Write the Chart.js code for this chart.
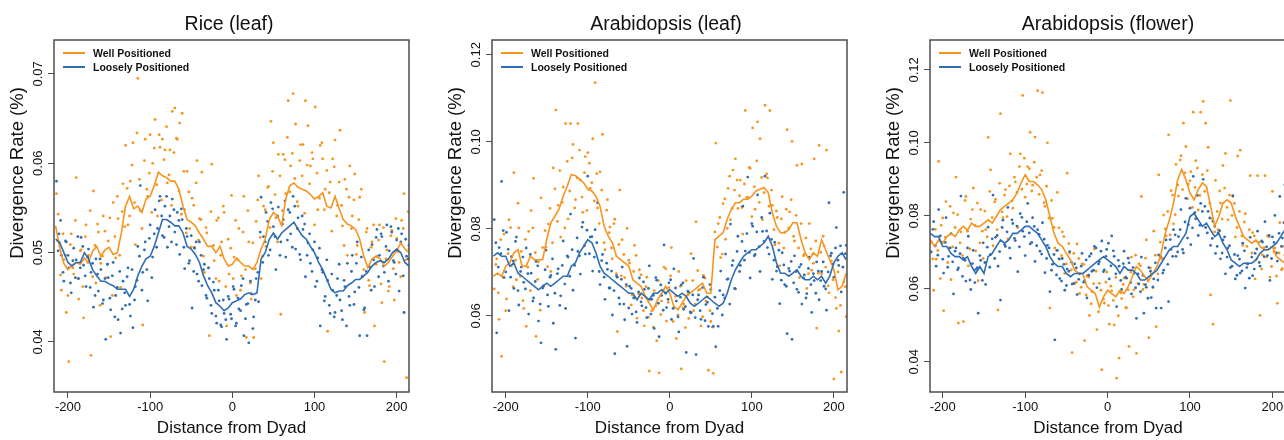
<!DOCTYPE html>
<html>
<head>
<meta charset="utf-8">
<script src="https://cdn.jsdelivr.net/npm/chart.js@4/dist/chart.umd.min.js"></script>
<style>
  html, body { margin: 0; padding: 0; background: #fff; overflow: hidden; width: 1284px; height: 440px; }
  canvas { position: absolute; top: 0; }
</style>
</head>
<body>
<canvas id="rice" width="420" height="440" style="left:0px"></canvas>
<canvas id="araLeaf" width="440" height="440" style="left:420px"></canvas>
<canvas id="araFlower" width="432" height="440" style="left:860px"></canvas>
<script>
// ---- data ----
const xTicks = [-200, -100, 0, 100, 200];

// positions of the running-mean lines (distance from dyad)
const lineX = [
  -215,-210,-205,-200,-195,-190,-185,-180,-175,-170,
  -165,-160,-155,-150,-145,-140,-135,-130,-125,-120,
  -115,-110,-105,-100,-95,-90,-85,-80,-75,-70,
  -65,-60,-55,-50,-45,-40,-35,-30,-25,-20,
  -15,-10,-5,0,5,10,15,20,25,30,
  35,40,45,50,55,60,65,70,75,80,
  85,90,95,100,105,110,115,120,125,130,
  135,140,145,150,155,160,165,170,175,180,
  185,190,195,200,205,210,215
];

// positions of the per-position points (two interleaved sets)
const dotX = [
  -214,-211,-208,-205,-202,-199,-196,-193,-190,-187,
  -184,-181,-178,-175,-172,-169,-166,-163,-160,-157,
  -154,-151,-148,-145,-142,-139,-136,-133,-130,-127,
  -124,-121,-118,-115,-112,-109,-106,-103,-100,-97,
  -94,-91,-88,-85,-82,-79,-76,-73,-70,-67,
  -64,-61,-58,-55,-52,-49,-46,-43,-40,-37,
  -34,-31,-28,-25,-22,-19,-16,-13,-10,-7,
  -4,-1,2,5,8,11,14,17,20,23,
  26,29,32,35,38,41,44,47,50,53,
  56,59,62,65,68,71,74,77,80,83,
  86,89,92,95,98,101,104,107,110,113,
  116,119,122,125,128,131,134,137,140,143,
  146,149,152,155,158,161,164,167,170,173,
  176,179,182,185,188,191,194,197,200,203,
  206,209,212,215
];
const dotX2 = [
  -212,-209,-206,-203,-200,-197,-194,-191,-188,-185,
  -182,-179,-176,-173,-170,-167,-164,-161,-158,-155,
  -152,-149,-146,-143,-140,-137,-134,-131,-128,-125,
  -122,-119,-116,-113,-110,-107,-104,-101,-98,-95,
  -92,-89,-86,-83,-80,-77,-74,-71,-68,-65,
  -62,-59,-56,-53,-50,-47,-44,-41,-38,-35,
  -32,-29,-26,-23,-20,-17,-14,-11,-8,-5,
  -2,1,4,7,10,13,16,19,22,25,
  28,31,34,37,40,43,46,49,52,55,
  58,61,64,67,70,73,76,79,82,85,
  88,91,94,97,100,103,106,109,112,115,
  118,121,124,127,130,133,136,139,142,145,
  148,151,154,157,160,163,166,169,172,175,
  178,181,184,187,190,193,196,199,202,205,
  208,211,214
];

// ---- Rice (leaf) ----
const riceWellLine = [
  0.0530,0.0505,0.0488,0.0481,0.0486,0.0489,0.0487,0.0494,0.0489,0.0502,
  0.0507,0.0496,0.0503,0.0506,0.0498,0.0500,0.0522,0.0552,0.0563,0.0549,
  0.0552,0.0545,0.0560,0.0563,0.0575,0.0590,0.0586,0.0584,0.0580,0.0580,
  0.0571,0.0552,0.0537,0.0534,0.0530,0.0522,0.0515,0.0507,0.0507,0.0500,
  0.0507,0.0493,0.0485,0.0487,0.0494,0.0489,0.0485,0.0485,0.0481,0.0489,
  0.0504,0.0515,0.0537,0.0545,0.0541,0.0530,0.0560,0.0575,0.0578,0.0573,
  0.0571,0.0569,0.0565,0.0560,0.0563,0.0567,0.0552,0.0550,0.0563,0.0549,
  0.0537,0.0532,0.0530,0.0526,0.0515,0.0496,0.0483,0.0493,0.0496,0.0493,
  0.0485,0.0489,0.0496,0.0502,0.0511,0.0504,0.0500
];
const riceLooseLine = [
  0.0515,0.0511,0.0500,0.0489,0.0485,0.0489,0.0489,0.0500,0.0493,0.0481,
  0.0474,0.0468,0.0468,0.0465,0.0463,0.0459,0.0459,0.0459,0.0451,0.0459,
  0.0474,0.0485,0.0493,0.0496,0.0507,0.0522,0.0537,0.0537,0.0534,0.0530,
  0.0530,0.0522,0.0507,0.0504,0.0498,0.0489,0.0474,0.0463,0.0455,0.0444,
  0.0440,0.0435,0.0438,0.0444,0.0446,0.0448,0.0453,0.0455,0.0453,0.0455,
  0.0493,0.0500,0.0515,0.0522,0.0515,0.0522,0.0526,0.0530,0.0534,0.0526,
  0.0519,0.0515,0.0507,0.0500,0.0489,0.0481,0.0470,0.0459,0.0455,0.0457,
  0.0457,0.0463,0.0466,0.0470,0.0470,0.0474,0.0478,0.0485,0.0489,0.0491,
  0.0489,0.0493,0.0500,0.0504,0.0500,0.0489,0.0485
];
const riceWellDots = [
  0.0566,0.0512,0.0458,0.0492,0.0433,0.0378,0.0521,0.0476,0.0584,0.0448,
  0.0503,0.0427,0.0531,0.0497,0.0385,0.0569,0.0466,0.0523,0.0488,0.0541,
  0.0472,0.0513,0.0406,0.0556,0.0494,0.0538,0.0461,0.0577,0.0620,0.0531,
  0.0580,0.0623,0.0509,0.0695,0.0547,0.0419,0.0627,0.0563,0.0632,0.0600,
  0.0649,0.0541,0.0618,0.0627,0.0615,0.0578,0.0615,0.0658,0.0662,0.0627,
  0.0645,0.0656,0.0548,0.0591,0.0527,0.0561,0.0506,0.0603,0.0538,0.0590,
  0.0478,0.0522,0.0407,0.0599,0.0491,0.0536,0.0468,0.0512,0.0545,0.0418,
  0.0476,0.0564,0.0495,0.0452,0.0527,0.0474,0.0563,0.0405,0.0512,0.0448,
  0.0405,0.0535,0.0586,0.0471,0.0552,0.0507,0.0574,0.0647,0.0623,0.0539,
  0.0610,0.0431,0.0610,0.0566,0.0670,0.0597,0.0678,0.0644,0.0552,0.0621,
  0.0621,0.0670,0.0642,0.0597,0.0605,0.0663,0.0548,0.0620,0.0605,0.0571,
  0.0412,0.0579,0.0605,0.0626,0.0553,0.0637,0.0530,0.0582,0.0497,0.0597,
  0.0541,0.0588,0.0508,0.0562,0.0474,0.0433,0.0527,0.0463,0.0512,0.0418,
  0.0496,0.0531,0.0444,0.0378,0.0503,0.0462,0.0525,0.0447,0.0516,0.0489,
  0.0536,0.0566,0.0360,0.0504
];
const riceWellDots2 = [
  0.0543,0.0475,0.0521,0.0497,0.0452,0.0509,0.0483,0.0536,0.0471,0.0502,
  0.0462,0.0518,0.0489,0.0547,0.0473,0.0508,0.0532,0.0441,0.0496,0.0524,
  0.0487,0.0539,0.0452,0.0518,0.0563,0.0497,0.0546,0.0529,0.0572,0.0541,
  0.0598,0.0556,0.0634,0.0582,0.0527,0.0603,0.0571,0.0589,0.0545,0.0617,
  0.0576,0.0632,0.0559,0.0604,0.0641,0.0587,0.0553,0.0612,0.0628,0.0569,
  0.0543,0.0591,0.0522,0.0568,0.0506,0.0553,0.0578,0.0514,0.0537,0.0496,
  0.0528,0.0483,0.0546,0.0508,0.0471,0.0539,0.0497,0.0552,0.0462,0.0515,
  0.0505,0.0471,0.0536,0.0492,0.0458,0.0523,0.0481,0.0547,0.0466,0.0511,
  0.0482,0.0559,0.0517,0.0496,0.0548,0.0573,0.0528,0.0591,0.0565,0.0512,
  0.0586,0.0547,0.0604,0.0629,0.0568,0.0611,0.0583,0.0557,0.0603,0.0586,
  0.0544,0.0598,0.0577,0.0612,0.0531,0.0589,0.0561,0.0623,0.0548,0.0592,
  0.0567,0.0524,0.0596,0.0541,0.0579,0.0553,0.0508,0.0571,0.0562,0.0527,
  0.0559,0.0498,0.0537,0.0571,0.0481,0.0523,0.0469,0.0506,0.0531,0.0487,
  0.0514,0.0465,0.0528,0.0493,0.0457,0.0519,0.0482,0.0538,0.0501,0.0473,
  0.0527,0.0492,0.0546
];
const riceLooseDots = [
  0.0580,0.0521,0.0497,0.0468,0.0512,0.0483,0.0455,0.0505,0.0492,0.0471,
  0.0517,0.0486,0.0462,0.0504,0.0478,0.0439,0.0493,0.0457,0.0481,0.0447,
  0.0403,0.0472,0.0436,0.0489,0.0452,0.0425,0.0410,0.0468,0.0441,0.0483,
  0.0429,0.0416,0.0462,0.0507,0.0575,0.0478,0.0512,0.0446,0.0531,0.0495,
  0.0548,0.0527,0.0563,0.0519,0.0552,0.0506,0.0541,0.0560,0.0523,0.0545,
  0.0498,0.0537,0.0482,0.0518,0.0491,0.0438,0.0505,0.0476,0.0512,0.0463,
  0.0487,0.0449,0.0471,0.0432,0.0458,0.0421,0.0446,0.0417,0.0432,0.0403,
  0.0448,0.0426,0.0459,0.0421,0.0437,0.0463,0.0407,0.0442,0.0399,0.0454,
  0.0428,0.0471,0.0445,0.0562,0.0518,0.0545,0.0497,0.0556,0.0529,0.0481,
  0.0551,0.0512,0.0537,0.0495,0.0548,0.0521,0.0563,0.0504,0.0539,0.0492,
  0.0526,0.0473,0.0511,0.0488,0.0503,0.0462,0.0494,0.0418,0.0478,0.0451,
  0.0469,0.0432,0.0458,0.0433,0.0471,0.0447,0.0425,0.0462,0.0488,0.0441,
  0.0497,0.0456,0.0512,0.0407,0.0473,0.0438,0.0407,0.0484,0.0509,0.0462,
  0.0526,0.0497,0.0518,0.0478,0.0531,0.0502,0.0523,0.0489,0.0514,0.0457,
  0.0521,0.0433,0.0496,0.0508
];
const riceLooseDots2 = [
  0.0502,0.0536,0.0478,0.0513,0.0497,0.0466,0.0491,0.0472,0.0518,0.0483,
  0.0507,0.0474,0.0495,0.0461,0.0488,0.0452,0.0476,0.0493,0.0443,0.0471,
  0.0487,0.0449,0.0474,0.0428,0.0461,0.0479,0.0437,0.0455,0.0473,0.0442,
  0.0481,0.0447,0.0469,0.0496,0.0458,0.0503,0.0481,0.0516,0.0472,0.0521,
  0.0506,0.0558,0.0541,0.0517,0.0563,0.0529,0.0512,0.0548,0.0509,0.0536,
  0.0549,0.0506,0.0527,0.0488,0.0519,0.0479,0.0512,0.0468,0.0497,0.0481,
  0.0452,0.0483,0.0441,0.0467,0.0429,0.0458,0.0419,0.0447,0.0425,0.0451,
  0.0431,0.0462,0.0418,0.0449,0.0435,0.0471,0.0426,0.0443,0.0468,0.0415,
  0.0447,0.0478,0.0523,0.0489,0.0512,0.0535,0.0503,0.0549,0.0518,0.0541,
  0.0497,0.0532,0.0558,0.0514,0.0545,0.0506,0.0552,0.0527,0.0498,0.0541,
  0.0532,0.0497,0.0521,0.0479,0.0512,0.0468,0.0505,0.0481,0.0446,0.0492,
  0.0441,0.0476,0.0428,0.0452,0.0487,0.0435,0.0469,0.0418,0.0451,0.0479,
  0.0442,0.0488,0.0461,0.0495,0.0436,0.0479,0.0503,0.0458,0.0492,0.0517,
  0.0473,0.0521,0.0485,0.0507,0.0468,0.0529,0.0491,0.0476,0.0527,0.0512,
  0.0474,0.0515,0.0493
];

// ---- Arabidopsis (leaf) ----
const leafWellLine = [
  0.0691,0.0698,0.0691,0.0714,0.0722,0.0745,0.0752,0.0714,0.0714,0.0737,
  0.0729,0.0729,0.0729,0.0775,0.0814,0.0829,0.0845,0.0875,0.0898,0.0925,
  0.0922,0.0914,0.0906,0.0891,0.0887,0.0875,0.0852,0.0806,0.0783,0.0768,
  0.0737,0.0729,0.0722,0.0714,0.0683,0.0675,0.0668,0.0645,0.0629,0.0614,
  0.0637,0.0652,0.0668,0.0652,0.0622,0.0614,0.0629,0.0645,0.0652,0.0660,
  0.0668,0.0675,0.0652,0.0652,0.0775,0.0783,0.0791,0.0822,0.0845,0.0860,
  0.0860,0.0868,0.0868,0.0875,0.0887,0.0891,0.0895,0.0883,0.0837,0.0806,
  0.0791,0.0791,0.0798,0.0814,0.0814,0.0775,0.0745,0.0729,0.0745,0.0737,
  0.0775,0.0752,0.0729,0.0706,0.0660,0.0668,0.0698
];
const leafLooseLine = [
  0.0737,0.0745,0.0737,0.0737,0.0714,0.0722,0.0698,0.0691,0.0683,0.0675,
  0.0668,0.0660,0.0668,0.0675,0.0668,0.0675,0.0683,0.0691,0.0691,0.0714,
  0.0722,0.0745,0.0760,0.0775,0.0768,0.0745,0.0714,0.0698,0.0691,0.0683,
  0.0675,0.0668,0.0660,0.0652,0.0652,0.0637,0.0652,0.0645,0.0637,0.0652,
  0.0652,0.0660,0.0652,0.0660,0.0652,0.0645,0.0652,0.0645,0.0629,0.0622,
  0.0629,0.0637,0.0645,0.0637,0.0629,0.0622,0.0629,0.0652,0.0683,0.0706,
  0.0722,0.0737,0.0745,0.0752,0.0752,0.0760,0.0768,0.0783,0.0760,0.0722,
  0.0698,0.0698,0.0691,0.0698,0.0706,0.0691,0.0683,0.0683,0.0691,0.0683,
  0.0691,0.0675,0.0691,0.0722,0.0737,0.0745,0.0729
];
const leafWellDots = [
  0.0662,0.0731,0.0592,0.0507,0.0788,0.0639,0.0821,0.0715,0.0929,0.0683,
  0.0802,0.0748,0.0617,0.0576,0.0794,0.0842,0.0916,0.0553,0.0724,0.0871,
  0.0667,0.0758,0.0811,0.0702,0.0940,0.1073,0.0854,0.0781,0.0896,0.1042,
  0.0823,0.1042,0.0994,0.0867,0.1042,0.0912,0.0838,0.0966,0.0975,0.0893,
  0.1007,0.1136,0.0848,0.0931,0.1017,0.0752,0.0867,0.0804,0.0731,0.0822,
  0.0564,0.0889,0.0775,0.0688,0.0801,0.0721,0.0648,0.0762,0.0595,0.0706,
  0.0641,0.0577,0.0689,0.0473,0.0612,0.0658,0.0543,0.0469,0.0634,0.0712,
  0.0588,0.0665,0.0757,0.0619,0.0548,0.0702,0.0478,0.0627,0.0681,0.0594,
  0.0743,0.0612,0.0816,0.0659,0.0577,0.0693,0.0634,0.0475,0.0587,0.0468,
  0.0997,0.0812,0.0734,0.0858,0.0776,0.0893,0.0821,0.0935,0.0961,0.0847,
  0.0912,0.0788,0.1072,0.0872,0.0939,0.1032,0.0845,0.1046,0.1007,0.0821,
  0.1084,0.0917,0.1072,0.0854,0.0763,0.0826,0.0715,0.0874,0.0792,0.1028,
  0.0839,0.1001,0.0772,0.0946,0.0688,0.0949,0.0741,0.0663,0.0812,0.0705,
  0.0961,0.0572,0.0992,0.0697,0.0761,0.0981,0.0653,0.0726,0.0455,0.0617,
  0.0565,0.0471,0.0678,0.0598
];
const leafWellDots2 = [
  0.0718,0.0653,0.0775,0.0689,0.0612,0.0743,0.0803,0.0667,0.0728,0.0859,
  0.0691,0.0635,0.0776,0.0712,0.0658,0.0802,0.0745,0.0684,0.0613,0.0757,
  0.0796,0.0713,0.0847,0.0768,0.0892,0.0817,0.0934,0.0861,0.0802,0.0955,
  0.0887,0.0963,0.0848,0.0917,0.0981,0.0873,0.0929,0.0842,0.0951,0.0906,
  0.0864,0.0927,0.0812,0.0889,0.0768,0.0843,0.0791,0.0756,0.0812,0.0697,
  0.0764,0.0692,0.0741,0.0668,0.0728,0.0625,0.0702,0.0739,0.0651,0.0694,
  0.0612,0.0667,0.0597,0.0638,0.0574,0.0623,0.0681,0.0603,0.0659,0.0708,
  0.0631,0.0692,0.0587,0.0645,0.0602,0.0668,0.0618,0.0573,0.0649,0.0607,
  0.0681,0.0627,0.0704,0.0661,0.0598,0.0687,0.0643,0.0612,0.0574,0.0793,
  0.0758,0.0826,0.0742,0.0869,0.0801,0.0921,0.0847,0.0889,0.0912,0.0876,
  0.0849,0.0903,0.0872,0.0941,0.0828,0.0897,0.0956,0.0861,0.0918,0.0883,
  0.0926,0.0852,0.0889,0.0798,0.0841,0.0767,0.0823,0.0756,0.0845,0.0802,
  0.0867,0.0783,0.0831,0.0756,0.0812,0.0738,0.0779,0.0697,0.0754,0.0721,
  0.0772,0.0698,0.0746,0.0783,0.0712,0.0669,0.0738,0.0683,0.0642,0.0701,
  0.0624,0.0712,0.0667
];
const leafLooseDots = [
  0.0821,0.0561,0.0757,0.0909,0.0688,0.0792,0.0612,0.0736,0.0663,0.0781,
  0.0625,0.0712,0.0677,0.0756,0.0604,0.0698,0.0641,0.0725,0.0588,0.0538,
  0.0669,0.0751,0.0622,0.0693,0.0583,0.0523,0.0708,0.0646,0.0772,0.0617,
  0.0735,0.0834,0.0659,0.0549,0.0748,0.0696,0.0815,0.0742,0.0921,0.0781,
  0.0703,0.0798,0.0860,0.0672,0.0741,0.0638,0.0707,0.0664,0.0602,0.0513,
  0.0689,0.0627,0.0712,0.0591,0.0530,0.0668,0.0604,0.0642,0.0585,0.0687,
  0.0623,0.0661,0.0596,0.0715,0.0638,0.0571,0.0682,0.0552,0.0647,0.0763,
  0.0619,0.0676,0.0592,0.0708,0.0634,0.0563,0.0671,0.0615,0.0516,0.0654,
  0.0607,0.0732,0.0511,0.0648,0.0592,0.0689,0.0626,0.0576,0.0661,0.0576,
  0.0529,0.0576,0.0703,0.0648,0.0742,0.0685,0.0811,0.0727,0.0662,0.0783,
  0.0716,0.0852,0.0749,0.0919,0.0687,0.0806,0.0741,0.0878,0.0702,0.0794,
  0.0921,0.0757,0.0836,0.0684,0.0769,0.0713,0.0628,0.0745,0.0672,0.0559,
  0.0703,0.0546,0.0738,0.0661,0.0712,0.0627,0.0694,0.0651,0.0735,0.0608,
  0.0681,0.0724,0.0637,0.0702,0.0668,0.0613,0.0860,0.0744,0.0689,0.0803,
  0.0716,0.0655,0.0884,0.0762
];
const leafLooseDots2 = [
  0.0768,0.0712,0.0743,0.0796,0.0701,0.0753,0.0689,0.0726,0.0771,0.0658,
  0.0702,0.0735,0.0662,0.0697,0.0741,0.0634,0.0679,0.0715,0.0627,0.0664,
  0.0706,0.0648,0.0689,0.0731,0.0652,0.0697,0.0624,0.0716,0.0673,0.0738,
  0.0691,0.0752,0.0716,0.0779,0.0738,0.0804,0.0761,0.0797,0.0743,0.0782,
  0.0735,0.0768,0.0702,0.0727,0.0689,0.0721,0.0664,0.0703,0.0658,0.0692,
  0.0641,0.0684,0.0627,0.0672,0.0618,0.0663,0.0641,0.0609,0.0655,0.0632,
  0.0678,0.0619,0.0663,0.0604,0.0647,0.0688,0.0629,0.0671,0.0613,0.0652,
  0.0638,0.0683,0.0617,0.0664,0.0598,0.0643,0.0676,0.0621,0.0657,0.0609,
  0.0648,0.0596,0.0637,0.0612,0.0665,0.0589,0.0631,0.0672,0.0605,0.0643,
  0.0617,0.0658,0.0602,0.0641,0.0684,0.0627,0.0716,0.0663,0.0748,0.0702,
  0.0771,0.0728,0.0789,0.0746,0.0812,0.0738,0.0793,0.0759,0.0826,0.0771,
  0.0795,0.0742,0.0776,0.0728,0.0703,0.0751,0.0682,0.0717,0.0668,0.0709,
  0.0725,0.0676,0.0702,0.0654,0.0718,0.0687,0.0641,0.0709,0.0672,0.0697,
  0.0652,0.0703,0.0681,0.0724,0.0662,0.0701,0.0738,0.0719,0.0756,0.0728,
  0.0761,0.0712,0.0743
];

// ---- Arabidopsis (flower) ----
const flowerWellLine = [
  0.0734,0.0716,0.0734,0.0725,0.0743,0.0752,0.0743,0.0761,0.0771,0.0761,
  0.0780,0.0771,0.0771,0.0780,0.0789,0.0780,0.0798,0.0817,0.0826,0.0835,
  0.0844,0.0862,0.0890,0.0913,0.0894,0.0894,0.0885,0.0872,0.0844,0.0798,
  0.0752,0.0725,0.0716,0.0697,0.0679,0.0651,0.0642,0.0642,0.0606,0.0596,
  0.0587,0.0550,0.0578,0.0596,0.0587,0.0578,0.0596,0.0587,0.0606,0.0633,
  0.0661,0.0651,0.0633,0.0624,0.0642,0.0661,0.0697,0.0752,0.0789,0.0835,
  0.0899,0.0927,0.0899,0.0862,0.0844,0.0872,0.0890,0.0881,0.0826,0.0771,
  0.0798,0.0835,0.0844,0.0835,0.0798,0.0771,0.0743,0.0734,0.0725,0.0734,
  0.0716,0.0707,0.0707,0.0716,0.0688,0.0679,0.0670
];
const flowerLooseLine = [
  0.0752,0.0743,0.0743,0.0716,0.0716,0.0697,0.0688,0.0688,0.0679,0.0688,
  0.0661,0.0642,0.0661,0.0642,0.0688,0.0697,0.0716,0.0734,0.0725,0.0734,
  0.0752,0.0752,0.0761,0.0771,0.0771,0.0761,0.0752,0.0734,0.0716,0.0688,
  0.0670,0.0661,0.0661,0.0642,0.0633,0.0642,0.0642,0.0642,0.0651,0.0661,
  0.0670,0.0679,0.0688,0.0679,0.0670,0.0661,0.0642,0.0661,0.0651,0.0651,
  0.0642,0.0624,0.0624,0.0633,0.0642,0.0651,0.0670,0.0688,0.0707,0.0716,
  0.0716,0.0734,0.0752,0.0798,0.0807,0.0789,0.0771,0.0780,0.0761,0.0743,
  0.0752,0.0725,0.0707,0.0679,0.0670,0.0661,0.0670,0.0670,0.0670,0.0679,
  0.0697,0.0707,0.0707,0.0716,0.0725,0.0743,0.0761
];
const flowerWellDots = [
  0.0728,0.0596,0.0681,0.0949,0.0774,0.0540,0.0839,0.0712,0.0625,0.0808,
  0.0906,0.0506,0.0756,0.0510,0.0853,0.0663,0.0791,0.0876,0.0704,0.0622,
  0.0817,0.0683,0.0762,0.1015,0.0926,0.0718,0.0845,0.0542,0.1080,0.0795,
  0.0872,0.0737,0.0970,0.0821,0.0893,0.0768,0.0970,0.1130,0.0851,0.0935,
  0.1029,0.0884,0.1016,0.1143,0.0912,0.1138,0.0826,0.1000,0.0547,0.0793,
  0.0712,0.0864,0.0681,0.0756,0.0642,0.0917,0.0698,0.0425,0.0614,0.0723,
  0.0587,0.0668,0.0458,0.0635,0.0527,0.0592,0.0709,0.0488,0.0615,0.0378,
  0.0561,0.0646,0.0503,0.0594,0.0501,0.0355,0.0410,0.0573,0.0629,0.0548,
  0.0442,0.0687,0.0597,0.0423,0.0668,0.0853,0.0612,0.0734,0.0466,0.0641,
  0.0758,0.0496,0.0912,0.0683,0.0802,0.0745,0.1022,0.0869,0.0778,0.0941,
  0.0854,0.0965,0.1054,0.0990,0.0887,0.0921,0.1084,0.0951,0.0816,0.1084,
  0.1114,0.1054,0.0988,0.0583,0.0503,0.0897,0.0762,0.0835,0.0938,0.0971,
  0.0789,0.1116,0.0853,0.0742,0.0964,0.0980,0.0719,0.0806,0.0668,0.0910,
  0.0754,0.0627,0.0910,0.0527,0.0693,0.0910,0.0745,0.0632,0.0867,0.0712,
  0.0560,0.0781,0.0655,0.0692
];
const flowerWellDots2 = [
  0.0682,0.0763,0.0705,0.0628,0.0794,0.0741,0.0672,0.0826,0.0715,0.0768,
  0.0803,0.0726,0.0691,0.0842,0.0758,0.0709,0.0817,0.0774,0.0835,0.0726,
  0.0758,0.0813,0.0742,0.0867,0.0795,0.0838,0.0762,0.0889,0.0811,0.0857,
  0.0798,0.0882,0.0841,0.0906,0.0864,0.0935,0.0873,0.0958,0.0887,0.0929,
  0.0868,0.0947,0.0906,0.0859,0.0924,0.0836,0.0881,0.0794,0.0842,0.0768,
  0.0705,0.0767,0.0691,0.0743,0.0668,0.0724,0.0652,0.0697,0.0618,0.0683,
  0.0604,0.0667,0.0583,0.0632,0.0559,0.0614,0.0648,0.0537,0.0596,0.0572,
  0.0618,0.0554,0.0607,0.0568,0.0631,0.0526,0.0589,0.0612,0.0548,0.0597,
  0.0646,0.0578,0.0692,0.0615,0.0663,0.0598,0.0684,0.0621,0.0657,0.0603,
  0.0692,0.0641,0.0728,0.0683,0.0764,0.0812,0.0748,0.0857,0.0803,0.0884,
  0.0953,0.0872,0.0918,0.0847,0.0896,0.0823,0.0878,0.0931,0.0856,0.0913,
  0.0867,0.0924,0.0835,0.0792,0.0756,0.0812,0.0868,0.0791,0.0876,0.0823,
  0.0857,0.0801,0.0834,0.0768,0.0812,0.0745,0.0783,0.0716,0.0762,0.0698,
  0.0745,0.0681,0.0728,0.0654,0.0713,0.0687,0.0742,0.0661,0.0702,0.0635,
  0.0698,0.0652,0.0716
];
const flowerLooseDots = [
  0.0701,0.0784,0.0662,0.0817,0.0728,0.0643,0.0795,0.0689,0.0751,0.0586,
  0.0712,0.0657,0.0854,0.0683,0.0621,0.0744,0.0598,0.0705,0.0653,0.0533,
  0.0678,0.0726,0.0612,0.0769,0.0694,0.0857,0.0741,0.0662,0.0569,0.0788,
  0.0716,0.0823,0.0684,0.0779,0.0732,0.0647,0.0806,0.0758,0.0691,0.0834,
  0.0723,0.0795,0.0675,0.0762,0.0703,0.0781,0.0644,0.0719,0.0592,0.0667,
  0.0460,0.0705,0.0628,0.0683,0.0596,0.0654,0.0702,0.0613,0.0668,0.0584,
  0.0641,0.0697,0.0622,0.0575,0.0689,0.0648,0.0716,0.0603,0.0674,0.0731,
  0.0652,0.0708,0.0627,0.0745,0.0689,0.0551,0.0662,0.0598,0.0703,0.0629,
  0.0671,0.0586,0.0642,0.0519,0.0613,0.0687,0.0533,0.0604,0.0658,0.0576,
  0.0627,0.0547,0.0693,0.0547,0.0651,0.0734,0.0565,0.0708,0.0762,0.0689,
  0.0743,0.0817,0.0698,0.0848,0.0776,0.0721,0.0908,0.0792,0.0746,0.0834,
  0.0900,0.0768,0.0812,0.0719,0.0785,0.0697,0.0753,0.0682,0.0734,0.0641,
  0.0712,0.0658,0.0855,0.0627,0.0691,0.0643,0.0725,0.0602,0.0668,0.0741,
  0.0636,0.0697,0.0758,0.0662,0.0728,0.0784,0.0691,0.0623,0.0742,0.0801,
  0.0676,0.0853,0.0739,0.0885
];
const flowerLooseDots2 = [
  0.0763,0.0718,0.0692,0.0745,0.0681,0.0727,0.0659,0.0712,0.0674,0.0703,
  0.0652,0.0696,0.0634,0.0678,0.0712,0.0624,0.0669,0.0617,0.0658,0.0691,
  0.0623,0.0672,0.0714,0.0659,0.0737,0.0683,0.0746,0.0702,0.0768,0.0721,
  0.0756,0.0712,0.0789,0.0738,0.0772,0.0715,0.0796,0.0743,0.0784,0.0753,
  0.0727,0.0771,0.0718,0.0749,0.0695,0.0736,0.0683,0.0712,0.0651,0.0694,
  0.0638,0.0682,0.0621,0.0667,0.0609,0.0648,0.0673,0.0615,0.0657,0.0626,
  0.0662,0.0618,0.0679,0.0637,0.0696,0.0651,0.0712,0.0668,0.0703,0.0647,
  0.0689,0.0725,0.0663,0.0704,0.0641,0.0678,0.0623,0.0669,0.0632,0.0684,
  0.0617,0.0658,0.0603,0.0641,0.0592,0.0637,0.0611,0.0574,0.0648,0.0605,
  0.0671,0.0624,0.0689,0.0643,0.0712,0.0667,0.0735,0.0689,0.0748,0.0701,
  0.0762,0.0708,0.0783,0.0739,0.0821,0.0767,0.0809,0.0856,0.0774,0.0812,
  0.0826,0.0753,0.0794,0.0738,0.0771,0.0716,0.0759,0.0698,0.0742,0.0687,
  0.0718,0.0662,0.0694,0.0637,0.0681,0.0649,0.0704,0.0658,0.0629,0.0687,
  0.0654,0.0709,0.0672,0.0731,0.0688,0.0715,0.0746,0.0683,0.0727,0.0698,
  0.0752,0.0716,0.0781
];

const ORANGE = '#f7941e';
const BLUE = '#2f6db3';
const FONT = '"Liberation Sans", Arial, Helvetica, sans-serif';

const toXY = (xs, ys) => xs.map((x, i) => ({ x: x, y: ys[i] }));

// draws the R-style frame, rotated y labels, titles and the inset legend
const rStyle = {
  id: 'rStyle',
  afterDraw(chart) {
    const o = chart.options.plugins.rStyle;
    const { ctx, chartArea: a } = chart;
    const y = chart.scales.y;
    ctx.save();
    ctx.strokeStyle = '#4d4d4d';
    ctx.lineWidth = 1.5;
    ctx.strokeRect(a.left, a.top, a.right - a.left, a.bottom - a.top);

    ctx.fillStyle = '#111';
    ctx.textAlign = 'center';
    ctx.textBaseline = 'middle';
    ctx.font = '19.5px ' + FONT;
    ctx.fillText(o.title, o.titleX, 25);

    ctx.font = '17px ' + FONT;
    ctx.fillText('Distance from Dyad', (a.left + a.right) / 2, 428);

    ctx.font = '13px ' + FONT;
    y.ticks.forEach(t => {
      ctx.save();
      ctx.translate(a.left - 16, y.getPixelForValue(t.value));
      ctx.rotate(-Math.PI / 2);
      ctx.fillText(t.value.toFixed(2), 0, 0);
      ctx.restore();
    });

    ctx.save();
    ctx.translate(a.left - 36, 173);
    ctx.rotate(-Math.PI / 2);
    ctx.font = '18.5px ' + FONT;
    ctx.fillText('Divergence Rate (%)', 0, 0);
    ctx.restore();

    // legend
    ctx.textAlign = 'left';
    ctx.font = 'bold 10.5px ' + FONT;
    chart.data.datasets.slice(0, 2).forEach((d, i) => {
      const ly = a.top + 13 + i * 14;
      ctx.strokeStyle = d.borderColor;
      ctx.lineWidth = 2;
      ctx.beginPath();
      ctx.moveTo(a.left + 9, ly);
      ctx.lineTo(a.left + 31, ly);
      ctx.stroke();
      ctx.fillStyle = '#111';
      ctx.fillText(d.label, a.left + 39, ly + 1);
    });
    ctx.restore();
  }
};

function panel(id, p) {
  new Chart(document.getElementById(id), {
    type: 'scatter',
    data: {
      datasets: [
        { label: 'Well Positioned', data: toXY(lineX, p.wellLine), showLine: true, pointRadius: 0,
          borderColor: ORANGE, borderWidth: 1.6, order: 1 },
        { label: 'Loosely Positioned', data: toXY(lineX, p.looseLine), showLine: true, pointRadius: 0,
          borderColor: BLUE, borderWidth: 1.6, order: 0 },
        { label: 'well pts', data: toXY(dotX, p.wellDots).concat(toXY(dotX2, p.wellDots2)),
          pointRadius: 1.4, borderWidth: 0, backgroundColor: ORANGE, order: 3 },
        { label: 'loose pts', data: toXY(dotX, p.looseDots).concat(toXY(dotX2, p.looseDots2)),
          pointRadius: 1.4, borderWidth: 0, backgroundColor: BLUE, order: 2 }
      ]
    },
    options: {
      responsive: false,
      animation: false,
      devicePixelRatio: 1,
      layout: { padding: { top: 40, right: p.padRight, left: 0, bottom: 0 } },
      plugins: {
        legend: { display: false },
        tooltip: { enabled: false },
        rStyle: { title: p.title, titleX: p.titleX }
      },
      scales: {
        x: {
          type: 'linear', min: p.xMin, max: p.xMax,
          afterBuildTicks: s => { s.ticks = xTicks.map(v => ({ value: v })); },
          afterFit: s => { s.height = 48; },
          border: { display: false },
          grid: { drawOnChartArea: false, tickLength: 6, color: '#4d4d4d', lineWidth: 1 },
          ticks: { autoSkip: false, maxRotation: 0, padding: 2, color: '#111',
                   font: { family: FONT, size: 13 }, callback: v => String(v) }
        },
        y: {
          type: 'linear', min: p.yMin, max: p.yMax,
          afterBuildTicks: s => { s.ticks = p.yTicks.map(v => ({ value: v })); },
          afterFit: s => { s.width = p.left; },
          border: { display: false },
          grid: { drawOnChartArea: false, tickLength: 6, color: '#4d4d4d', lineWidth: 1 },
          ticks: { display: false }
        }
      }
    },
    plugins: [rStyle]
  });
}

panel('rice', {
  title: 'Rice (leaf)', titleX: 229, left: 54, padRight: 11,
  xMin: -217, xMax: 215, yMin: 0.0344, yMax: 0.0738, yTicks: [0.04, 0.05, 0.06, 0.07],
  wellLine: riceWellLine, looseLine: riceLooseLine,
  wellDots: riceWellDots, looseDots: riceLooseDots, wellDots2: riceWellDots2, looseDots2: riceLooseDots2
});
panel('araLeaf', {
  title: 'Arabidopsis (leaf)', titleX: 246, left: 72, padRight: 13,
  xMin: -216.7, xMax: 216, yMin: 0.0425, yMax: 0.1234, yTicks: [0.06, 0.08, 0.10, 0.12],
  wellLine: leafWellLine, looseLine: leafLooseLine,
  wellDots: leafWellDots, looseDots: leafLooseDots, wellDots2: leafWellDots2, looseDots2: leafLooseDots2
});
panel('araFlower', {
  title: 'Arabidopsis (flower)', titleX: 248, left: 70, padRight: 6,
  xMin: -215.5, xMax: 216.5, yMin: 0.0317, yMax: 0.1282, yTicks: [0.04, 0.06, 0.08, 0.10, 0.12],
  wellLine: flowerWellLine, looseLine: flowerLooseLine,
  wellDots: flowerWellDots, looseDots: flowerLooseDots, wellDots2: flowerWellDots2, looseDots2: flowerLooseDots2
});
</script>
</body>
</html>
